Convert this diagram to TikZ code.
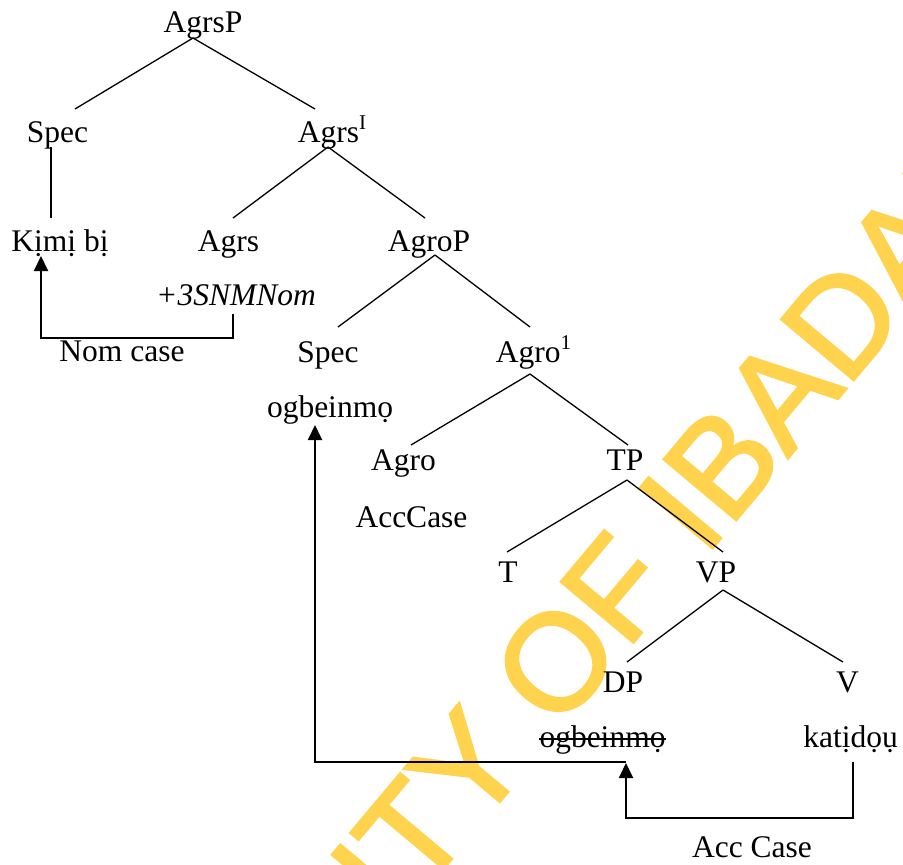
\documentclass[tikz,border=0pt]{standalone}
\usepackage{fontspec}
\setmainfont{Liberation Serif}
\newfontfamily\wmfont[FakeBold=2]{Liberation Sans}
\usetikzlibrary{arrows.meta}
\definecolor{wmyellow}{RGB}{255,211,77}
% small raised index after a category label (bar level)
\newcommand\barmark[1]{\raisebox{12.5pt}{\fontsize{21}{21}\selectfont #1}}
\begin{document}
\begin{tikzpicture}[x=1pt,y=-1pt,
  lbl/.style={inner sep=0pt, anchor=base, font=\fontsize{31.5}{31.5}\selectfont},
  branch/.style={line width=1.3pt},
  mover/.style={line width=2pt, -{Triangle[length=15pt,width=14pt]}},
  wm/.style={inner sep=0pt, text=wmyellow, font=\wmfont\fontsize{137}{137}\selectfont}]
\useasboundingbox (0,0) rectangle (903,865);

% watermark behind the tree
\begin{scope}
  \clip (0,0) rectangle (903,865);
  \node[wm, rotate=50, anchor=base west] (wmark) at (4.7,1391.6) {UNIVERSITY OF IBADAN};
\end{scope}

% tree labels
\node[lbl] (agrsp)   at (203,32)    {AgrsP};
\node[lbl] (spec1)   at (57.5,142)  {Spec};
\node[lbl] (agrsbar) at (332,142)   {Agrs\barmark{I}};
\node[lbl] (kimi)    at (60,251)    {Kịmị bị};
\node[lbl] (agrs)    at (228.5,251) {Agrs};
\node[lbl] (agrop)   at (429,251)   {AgroP};
\node[lbl] (feat)    at (236,305)   {\textit{+3SNMNom}};
\node[lbl] (nomcase) at (122,361)   {Nom case};
\node[lbl] (spec2)   at (328,362)   {Spec};
\node[lbl] (agrobar) at (533.5,362) {Agro\barmark{1}};
\node[lbl] (obj1)    at (330,417)   {ogbeinmọ};
\node[lbl] (agro)    at (403.5,470) {Agro};
\node[lbl] (tp)      at (625,470)   {TP};
\node[lbl] (acccase) at (411.5,527) {AccCase};
\node[lbl] (t)       at (508,582)   {T};
\node[lbl] (vp)      at (716,582)   {VP};
\node[lbl] (dp)      at (623,692)   {DP};
\node[lbl] (v)       at (847.5,692) {V};
\node[lbl] (obj2)    at (602.5,747) {ogbeinmọ};
\node[lbl] (verb)    at (850.5,747) {katịdọụ};
\node[lbl] (acclbl)  at (752,857)   {Acc Case};

% branches
\draw[branch] ([shift={(-10,6)}]agrsp.base) -- ([shift={(17.5,-33)}]spec1.base);
\draw[branch] ([shift={(-10,6)}]agrsp.base) -- ([shift={(-17,-33)}]agrsbar.base);
\draw[branch] ([shift={(-6.5,5)}]spec1.base) -- ([shift={(-9,-33)}]kimi.base);
\draw[branch] ([shift={(-4,5)}]agrsbar.base) -- ([shift={(4.5,-33)}]agrs.base);
\draw[branch] ([shift={(-4,5)}]agrsbar.base) -- ([shift={(-4,-33)}]agrop.base);
\draw[branch] ([shift={(6,4)}]agrop.base) -- ([shift={(10,-35)}]spec2.base);
\draw[branch] ([shift={(6,4)}]agrop.base) -- ([shift={(-3.5,-35)}]agrobar.base);
\draw[branch] ([shift={(-3.5,12)}]agrobar.base) -- ([shift={(7.5,-25)}]agro.base);
\draw[branch] ([shift={(-3.5,12)}]agrobar.base) -- ([shift={(3,-25)}]tp.base);
\draw[branch] ([shift={(2,10)}]tp.base) -- ([shift={(-1,-30)}]t.base);
\draw[branch] ([shift={(2,10)}]tp.base) -- ([shift={(7,-30)}]vp.base);
\draw[branch] ([shift={(7,8)}]vp.base) -- ([shift={(4,-30)}]dp.base);
\draw[branch] ([shift={(7,8)}]vp.base) -- ([shift={(-4.5,-30)}]v.base);

% deleted copy
\draw[line width=1.5pt] ([shift={(0,-8)}]obj2.base west) -- ([shift={(0,-8)}]obj2.base east);

% case movement arrows
\draw[mover] ([shift={(-3,9)}]feat.base) -- ++(0,24) -| ([shift={(-19,5)}]kimi.base);
\draw[mover] ([shift={(2.5,15)}]verb.base) -- ++(0,56) -| ([shift={(23.5,16)}]obj2.base);
\draw[mover] ([shift={(23.5,15)}]obj2.base) -| ([shift={(-15,8)}]obj1.base);
\end{tikzpicture}
\end{document}
